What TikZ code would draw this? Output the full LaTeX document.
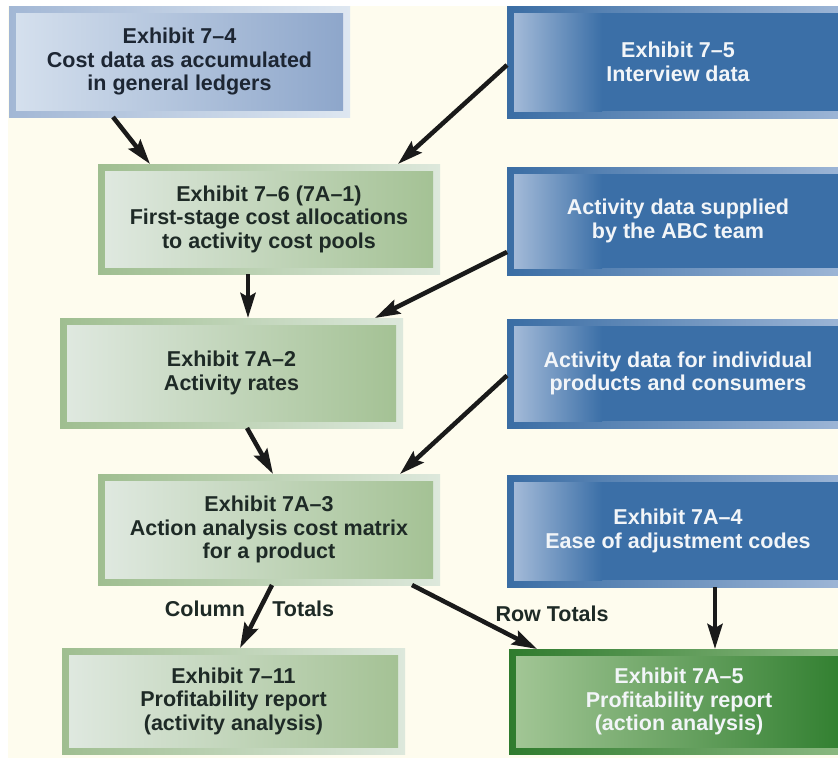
\documentclass[tikz,border=0pt]{standalone}
\usepackage{fontspec}
\setmainfont{Liberation Sans}
\usetikzlibrary{arrows.meta,calc}
\definecolor{cream}{HTML}{FEFCEE}
\definecolor{aOutL}{HTML}{A2B7D5}
\definecolor{aOutR}{HTML}{DEE7F1}
\definecolor{aInL}{HTML}{D6E1EE}
\definecolor{aInR}{HTML}{8CA5CA}
\definecolor{bOutL}{HTML}{3A6DA4}
\definecolor{bOutR}{HTML}{9FB7D7}
\definecolor{binL}{HTML}{A3BAD8}
\definecolor{binR}{HTML}{3B6FA7}
\definecolor{gOutL}{HTML}{9FBE90}
\definecolor{gOutR}{HTML}{DDE8DC}
\definecolor{gInL}{HTML}{E0E9E1}
\definecolor{gInR}{HTML}{A3C193}
\definecolor{dOutL}{HTML}{2F7B2D}
\definecolor{dOutR}{HTML}{8DBA83}
\definecolor{dInL}{HTML}{A4C797}
\definecolor{dInR}{HTML}{2F7E2E}
\definecolor{darktext}{HTML}{1E2A26}
\definecolor{navytext}{HTML}{1D2633}
\definecolor{lighttext}{HTML}{F2F5F8}
\definecolor{arrowc}{HTML}{1A1A1A}
\begin{document}
\begin{tikzpicture}[x=1pt,y=-1pt,
  every node/.style={font=\fontsize{21.5pt}{23.5pt}\selectfont\bfseries},
  box/.style={anchor=north west, inner sep=0pt, outer sep=0pt, align=center},
  inset/.style={path picture={\shade[#1] ([shift={(7pt,-7pt)}]path picture bounding box.north west) rectangle ([shift={(-7pt,7pt)}]path picture bounding box.south east);}},
  binset/.style={path picture={
    \fill[binR] ([shift={(7pt,-7pt)}]path picture bounding box.north west) rectangle ([shift={(-7pt,7pt)}]path picture bounding box.south east);
    \shade[left color=binL, right color=binR] ([shift={(7pt,-7pt)}]path picture bounding box.north west) rectangle ([shift={(95pt,7pt)}]path picture bounding box.south west);}},
  lbox/.style={box, left color=aOutL, right color=aOutR, inset={left color=aInL, right color=aInR}, text=navytext},
  bbox/.style={box, left color=bOutL, right color=bOutR, binset, text=lighttext},
  gbox/.style={box, left color=gOutL, right color=gOutR, inset={left color=gInL, right color=gInR}, text=darktext},
  dbox/.style={box, left color=dOutL, right color=dOutR, inset={left color=dInL, right color=dInR}, text=lighttext},
  arr/.style={draw=arrowc, line width=4.5pt, -{Stealth[length=25pt,width=15pt,inset=4pt]}},
  lbl/.style={text=darktext, inner sep=0pt}
]
\useasboundingbox (0,0) rectangle (838,758);
\clip (0,0) rectangle (838,758);
\fill[white] (0,0) rectangle (838,758);
\fill[cream] (8,6) rectangle (838,758);

\node[lbox, minimum width=341pt, minimum height=111pt] (A) at (9,6)
  {Exhibit 7--4\\Cost data as accumulated\\in general ledgers};
\node[bbox, minimum width=342pt, minimum height=112pt] (B) at (507,6)
  {Exhibit 7--5\\Interview data};
\node[gbox, minimum width=342pt, minimum height=110pt] (C) at (98,164)
  {Exhibit 7--6 (7A--1)\\First-stage cost allocations\\to activity cost pools};
\node[bbox, minimum width=342pt, minimum height=108pt] (D) at (507,167)
  {Activity data supplied\\by the ABC team};
\node[gbox, minimum width=343pt, minimum height=110pt] (F) at (60,318)
  {Exhibit 7A--2\\Activity rates};
\node[bbox, minimum width=342pt, minimum height=109pt] (E) at (507,319)
  {Activity data for individual\\products and consumers};
\node[gbox, minimum width=342pt, minimum height=111pt] (G) at (98,474)
  {Exhibit 7A--3\\Action analysis cost matrix\\for a product};
\node[bbox, minimum width=342pt, minimum height=112pt] (H) at (507,475)
  {Exhibit 7A--4\\Ease of adjustment codes};
\node[gbox, minimum width=343pt, minimum height=106pt] (I) at (62,648)
  {Exhibit 7--11\\Profitability report\\(activity analysis)};
\node[dbox, minimum width=340pt, minimum height=105pt] (J) at (509,649)
  {Exhibit 7A--5\\Profitability report\\(action analysis)};

\draw[arr] ([xshift=104pt]A.south west) -- ([xshift=52pt]C.north west);
\draw[arr] ([yshift=-3pt]B.west) -- ([xshift=300pt]C.north west);
\draw[arr] ([xshift=150pt]C.south west) -- ([xshift=188pt]F.north west);
\draw[arr] ([yshift=-31pt]D.west) -- ([xshift=315pt]F.north west);
\draw[arr] ([xshift=187pt]F.south west) -- ([xshift=175pt]G.north west);
\draw[arr] ([yshift=-2pt]E.west) -- ([xshift=302pt]G.north west);
\draw[arr] ([xshift=174pt]G.south west) -- ([xshift=178pt]I.north west)
  node[lbl, pos=0.37, anchor=east, xshift=-13pt] {Column}
  node[lbl, pos=0.37, anchor=west, xshift=10pt] {Totals};
\draw[arr] ([xshift=314pt]G.south west) -- ([xshift=28pt]J.north west)
  node[lbl, pos=0.45, anchor=west, xshift=25pt] {Row Totals};
\draw[arr] ([xshift=208pt]H.south west) -- ([xshift=206pt]J.north west);
\end{tikzpicture}
\end{document}
